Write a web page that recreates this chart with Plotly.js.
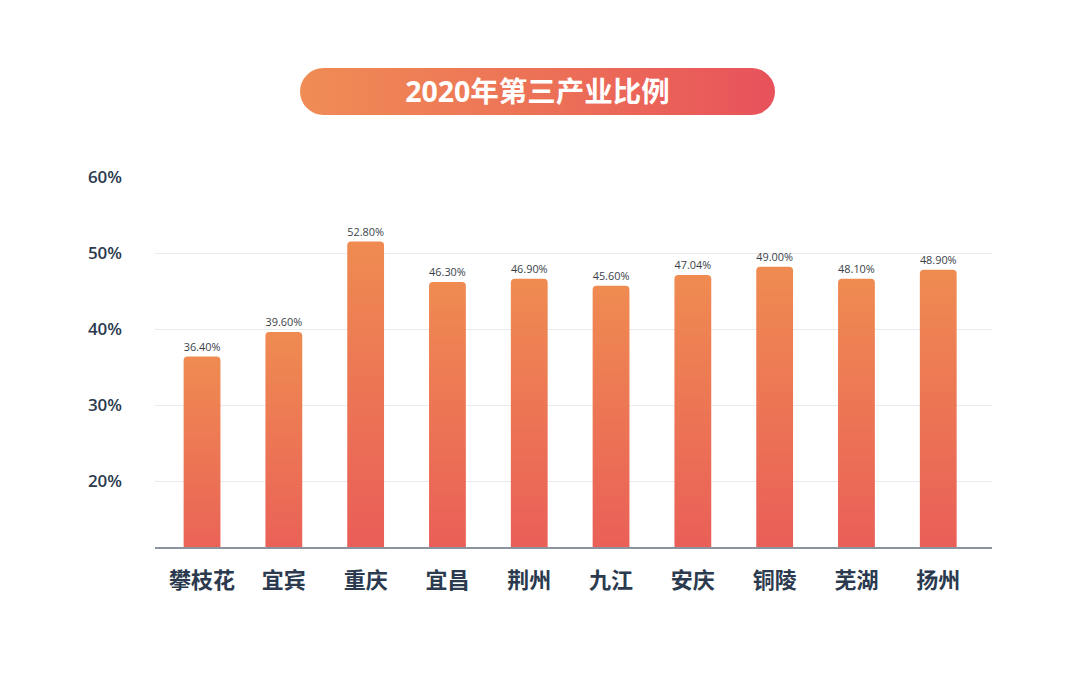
<!DOCTYPE html>
<html>
<head>
<meta charset="utf-8">
<script src="https://cdn.plot.ly/plotly-3.0.1.min.js"></script>
<style>
html,body{margin:0;padding:0;background:#fff;}
#wrap{position:relative;width:1080px;height:673px;}
#pill{position:absolute;left:300px;top:68px;width:475px;height:47px;border-radius:24px;
  background:linear-gradient(90deg,#f08c55 0%,#ec6f57 55%,#e8525b 100%);}
#chart{position:absolute;left:0;top:0;width:1080px;height:673px;}
</style>
</head>
<body>
<div id="wrap">
<div id="pill"></div>
<div id="chart"></div>
</div>
<script>
const cities = ['攀枝花','宜宾','重庆','宜昌','荆州','九江','安庆','铜陵','芜湖','扬州'];
// bar heights as drawn in the picture (%)
const barHeights = [36.4, 39.6, 51.5, 46.2, 46.6, 45.7, 47.1, 48.2, 46.6, 47.8];
// value labels as printed above the bars
const valueLabels = ['36.40%','39.60%','52.80%','46.30%','46.90%','45.60%','47.04%','49.00%','48.10%','48.90%'];
const yTickVals = [20, 30, 40, 50, 60];
const yTickText = ['20%','30%','40%','50%','60%'];
const titleText = '2020年第三产业比例';

const trace = {
  type: 'bar',
  x: cities.map((c, i) => i),
  y: barHeights,
  text: valueLabels,
  textposition: 'outside',
  cliponaxis: false,
  textfont: {family: 'Open Sans, Noto Sans CJK SC', size: 11.5, color: '#3a3f4a'},
  marker: {color: '#ec6e55', line: {width: 0}},
  width: 0.45,
  hoverinfo: 'none'
};

const layout = {
  width: 1080, height: 673,
  paper_bgcolor: 'rgba(0,0,0,0)',
  plot_bgcolor: 'rgba(0,0,0,0)',
  margin: {l: 155, r: 88, t: 177, b: 126, pad: 0},
  showlegend: false,
  barcornerradius: 4,
  title: {
    text: titleText,
    x: 0.4977, xref: 'container', xanchor: 'center',
    y: 1 - 92/673, yref: 'container', yanchor: 'middle',
    font: {family: 'Open Sans, Noto Sans CJK SC', size: 28.5, color: '#ffffff', weight: 700}
  },
  xaxis: {
    range: [-0.575, 9.657],
    tickmode: 'array',
    tickvals: cities.map((c, i) => i),
    ticktext: cities,
    showgrid: false, zeroline: false,
    showline: true, linecolor: '#8a939e', linewidth: 1.5,
    ticks: '', ticklabelstandoff: 13,
    tickfont: {family: 'Noto Sans CJK SC', size: 22, color: '#2b3a4e', weight: 700},
    fixedrange: true
  },
  yaxis: {
    range: [11.32, 60],
    tickmode: 'array',
    tickvals: yTickVals,
    ticktext: yTickText,
    showgrid: true, gridcolor: '#e8eaee', gridwidth: 1,
    zeroline: false, showline: false,
    ticks: '', ticklabelstandoff: 32,
    tickfont: {family: 'Open Sans', size: 17, color: '#2b3a4e', weight: 600},
    fixedrange: true
  }
};

Plotly.newPlot('chart', [trace], layout, {staticPlot: true, displayModeBar: false}).then(function(gd){
  const svg = gd.querySelector('svg.main-svg');
  const ns = 'http://www.w3.org/2000/svg';
  let defs = svg.querySelector('defs');
  if (!defs) { defs = document.createElementNS(ns, 'defs'); svg.insertBefore(defs, svg.firstChild); }
  const g = document.createElementNS(ns, 'linearGradient');
  g.setAttribute('id', 'barGrad');
  g.setAttribute('x1', '0'); g.setAttribute('y1', '0');
  g.setAttribute('x2', '0'); g.setAttribute('y2', '1');
  [['0%', '#ef8b51'], ['100%', '#e8515a']].forEach(function(s){
    const st = document.createElementNS(ns, 'stop');
    st.setAttribute('offset', s[0]);
    st.setAttribute('stop-color', s[1]);
    g.appendChild(st);
  });
  defs.appendChild(g);
  gd.querySelectorAll('.bars .point path').forEach(function(p){
    p.style.fill = 'url(#barGrad)';
  });
});
</script>
</body>
</html>
